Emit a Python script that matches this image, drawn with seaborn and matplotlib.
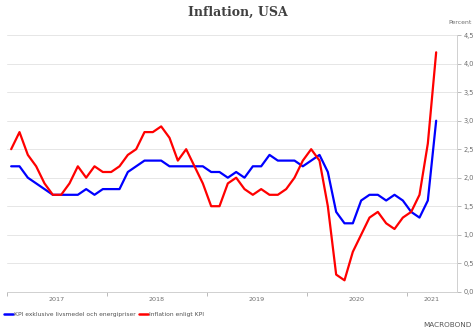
import numpy as np
import pandas as pd
import matplotlib
matplotlib.use("Agg")
import matplotlib.pyplot as plt
import seaborn as sns

# Monthly year-over-year rates, Jan 2017 - Apr 2021
months = pd.date_range("2017-01-01", periods=52, freq="MS")
core_cpi = [2.2, 2.2, 2.0, 1.9, 1.8, 1.7, 1.7, 1.7, 1.7, 1.8, 1.7, 1.8,
            1.8, 1.8, 2.1, 2.2, 2.3, 2.3, 2.3, 2.2, 2.2, 2.2, 2.2, 2.2,
            2.1, 2.1, 2.0, 2.1, 2.0, 2.2, 2.2, 2.4, 2.3, 2.3, 2.3, 2.2,
            2.3, 2.4, 2.1, 1.4, 1.2, 1.2, 1.6, 1.7, 1.7, 1.6, 1.7, 1.6,
            1.4, 1.3, 1.6, 3.0]
headline_cpi = [2.5, 2.8, 2.4, 2.2, 1.9, 1.7, 1.7, 1.9, 2.2, 2.0, 2.2, 2.1,
                2.1, 2.2, 2.4, 2.5, 2.8, 2.8, 2.9, 2.7, 2.3, 2.5, 2.2, 1.9,
                1.5, 1.5, 1.9, 2.0, 1.8, 1.7, 1.8, 1.7, 1.7, 1.8, 2.0, 2.3,
                2.5, 2.3, 1.5, 0.3, 0.2, 0.7, 1.0, 1.3, 1.4, 1.2, 1.1, 1.3,
                1.4, 1.7, 2.6, 4.2]
series_names = ["KPI exklusive livsmedel och energipriser", "Inflation enligt KPI"]
series_colors = ["#0000FF", "#FF0000"]
year_labels = ["2017", "2018", "2019", "2020", "2021"]
y_ticks = [0.0, 0.5, 1.0, 1.5, 2.0, 2.5, 3.0, 3.5, 4.0, 4.5]

# Position each month at its middle, in years since start of 2017
t = np.array([(d.year - 2017) + (d.month - 0.5) / 12 for d in months])
df = pd.concat([
    pd.DataFrame({"t": t, "value": core_cpi, "serie": series_names[0]}),
    pd.DataFrame({"t": t, "value": headline_cpi, "serie": series_names[1]}),
])

sns.set_theme(style="white")
plt.rcParams["font.family"] = ["DejaVu Sans"]

fig = plt.figure(figsize=(4.75, 3.35), dpi=100)
ax = fig.add_axes([7 / 475, 1 - 291.7 / 335, 450 / 475, (291.7 - 35.2) / 335])

sns.lineplot(data=df, x="t", y="value", hue="serie",
             palette=dict(zip(series_names, series_colors)),
             linewidth=1.6, ax=ax, legend=False)

grey = "#6e6e6e"
ax.set_xlim(0, 4.5)
ax.set_ylim(0, 4.5)
ax.set_xlabel("")
ax.set_ylabel("")

# y axis on the right with comma decimals
ax.yaxis.tick_right()
ax.set_yticks(y_ticks)
ax.set_yticklabels([f"{v:.1f}".replace(".", ",") for v in y_ticks])
ax.grid(axis="y", color="#e6e6e6", linewidth=0.7)
ax.set_axisbelow(True)

# year boundaries as ticks, year names centred on the visible span
ax.set_xticks([0, 1, 2, 3, 4])
ax.set_xticklabels([])
centres = [0.5, 1.5, 2.5, 3.5, 4.25]
for c, lab in zip(centres, year_labels):
    ax.text(c, -0.022, lab, transform=ax.get_xaxis_transform(),
            ha="center", va="top", fontsize=4.6, color=grey)

ax.tick_params(axis="x", bottom=True, length=3, width=0.6, color="#b0b0b0")
ax.tick_params(axis="y", right=True, length=3, width=0.6, color="#b0b0b0",
               labelsize=4.8, labelcolor=grey, pad=1.5)

for side in ["top", "left"]:
    ax.spines[side].set_visible(False)
for side in ["bottom", "right"]:
    ax.spines[side].set_visible(True)
    ax.spines[side].set_color("#d0d0d0")
    ax.spines[side].set_linewidth(0.7)

fig.text(460 / 475, 1 - 23 / 335, "Percent", ha="center", va="center",
         fontsize=4.4, color=grey)

fig.text(0.5, 1 - 12 / 335, "Inflation, USA", ha="center", va="center",
         fontsize=9, fontweight="bold", family="DejaVu Serif", color="#404040")

handles = [plt.Line2D([], [], color=c, linewidth=1.8) for c in series_colors]
fig.legend(handles, series_names, loc="center left",
           bbox_to_anchor=(4 / 475, 1 - 314 / 335), ncol=2, frameon=False,
           fontsize=4.3, handlelength=1.5, handletextpad=0.15,
           columnspacing=0.6, borderaxespad=0, borderpad=0,
           labelcolor="#505050")

fig.text(472 / 475, 1 - 325 / 335, "MACROBOND", ha="right", va="center",
         fontsize=5.2, color="#555555")

fig.savefig("out.png", dpi=100)
